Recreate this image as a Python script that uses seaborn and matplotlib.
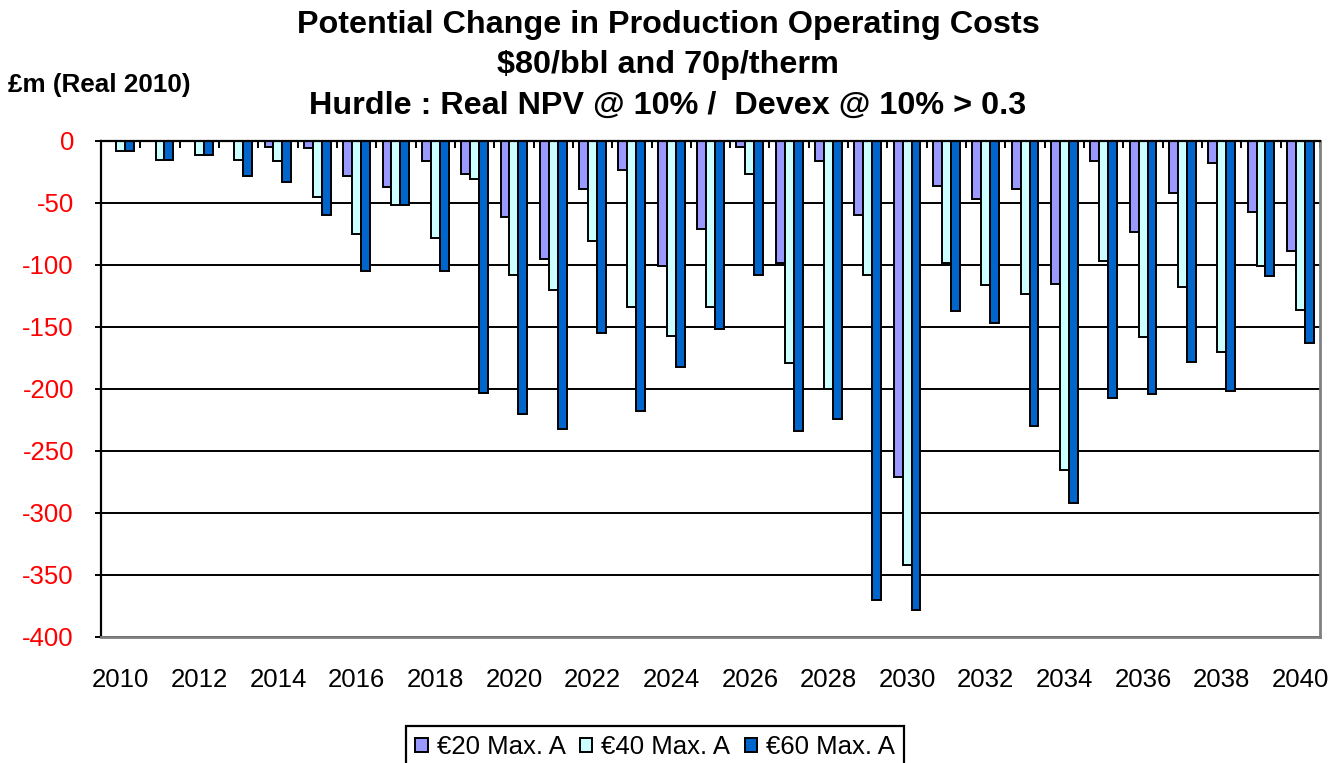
import matplotlib
matplotlib.use("Agg")
import matplotlib.pyplot as plt
import seaborn as sns
import pandas as pd
import numpy as np

years = list(range(2010, 2041))
series_names = ["€20 Max. A", "€40 Max. A", "€60 Max. A"]
e20 = [0, 0, 0, 0, -5, -6, -28, -37, -16, -27, -61, -95, -39, -23, -101, -71,
       -5, -98, -16, -60, -271, -36, -47, -39, -115, -16, -73, -42, -18, -57, -89]
e40 = [-8, -15, -11, -15, -16, -45, -75, -52, -78, -31, -108, -120, -81, -134, -157, -134,
       -27, -179, -200, -108, -342, -98, -116, -123, -265, -97, -158, -118, -170, -101, -136]
e60 = [-8, -15, -11, -28, -33, -60, -105, -52, -105, -203, -220, -232, -155, -218, -182, -152,
       -108, -234, -224, -370, -378, -137, -147, -230, -292, -207, -204, -178, -202, -109, -163]
colors = ["#9999FF", "#CCFFFF", "#0066CC"]
yticks = list(range(0, -401, -50))

sns.set_style("white")
plt.rcParams["font.family"] = ["Liberation Sans", "DejaVu Sans"]
plt.rcParams["text.color"] = "black"
plt.rcParams["xtick.color"] = "black"
plt.rcParams["ytick.color"] = "black"
plt.rcParams["axes.labelcolor"] = "black"

df = pd.DataFrame({
    "year": [str(y) for y in years] * 3,
    "value": e20 + e40 + e60,
    "series": [series_names[0]] * len(years) + [series_names[1]] * len(years) + [series_names[2]] * len(years),
})

fig = plt.figure(figsize=(13.42, 7.63), dpi=100)
ax = fig.add_axes([101 / 1342, 1 - 637 / 763, (1320 - 101) / 1342, (637 - 141) / 763])

sns.barplot(data=df, x="year", y="value", hue="series", hue_order=series_names,
            palette=colors, width=0.68, edgecolor="black", linewidth=1.4,
            saturation=1, ax=ax, errorbar=None)

ax.set_ylim(-400, 0)
ax.set_xlim(-0.5, len(years) - 0.5)
ax.set_yticks(yticks)
ax.set_yticklabels([str(v) for v in yticks], fontsize=18.5)
for lab in ax.get_yticklabels():
    lab.set_color("red")
ax.set_axisbelow(True)
ax.yaxis.grid(True, color="black", linewidth=1.4)
ax.xaxis.grid(False)

ax.set_xticks(range(len(years)))
ax.set_xticklabels([str(y) if i % 2 == 0 else "" for i, y in enumerate(years)], fontsize=18.5, color="black")
ax.tick_params(axis="x", which="major", length=0, pad=22)
ax.set_xticks(np.arange(len(years) + 1) - 0.5, minor=True)
ax.tick_params(axis="x", which="minor", bottom=False, top=True, direction="in", length=5, width=1.4, color="black")
ax.tick_params(axis="y", which="major", left=True, direction="out", length=4.5, width=1.4, color="black", pad=15)

ax.set_xlabel("")
ax.set_ylabel("")

for side in ["left", "top"]:
    ax.spines[side].set_color("black")
    ax.spines[side].set_linewidth(1.6)
for side in ["bottom", "right"]:
    ax.spines[side].set_color("#808080")
    ax.spines[side].set_linewidth(2)

fig.text(668 / 1342, 1 - 25 / 763, "Potential Change in Production Operating Costs",
         ha="center", va="center", fontsize=23.3, fontweight="bold", color="black")
fig.text(668 / 1342, 1 - 65 / 763, "$80/bbl and 70p/therm",
         ha="center", va="center", fontsize=23.3, fontweight="bold", color="black")
fig.text(668 / 1342, 1 - 106 / 763, "Hurdle : Real NPV @ 10% /  Devex @ 10% > 0.3",
         ha="center", va="center", fontsize=23.3, fontweight="bold", color="black")
fig.text(8 / 1342, 1 - 85 / 763, "£m (Real 2010)", ha="left", va="center",
         fontsize=18.8, fontweight="bold", color="black")

sns.move_legend(ax, "upper center", bbox_to_anchor=(655 / 1342, 1 - 726 / 763),
                bbox_transform=fig.transFigure, ncol=3, title=None, frameon=True,
                fontsize=18.5, handlelength=0.5, handleheight=0.5, handletextpad=0.35,
                columnspacing=0.55, borderpad=0.35, borderaxespad=0, fancybox=False,
                edgecolor="black")
leg = ax.get_legend()
leg.get_frame().set_linewidth(1.6)
leg.get_frame().set_alpha(1)
for t in leg.get_texts():
    t.set_color("black")

fig.savefig("out.png", dpi=100)
